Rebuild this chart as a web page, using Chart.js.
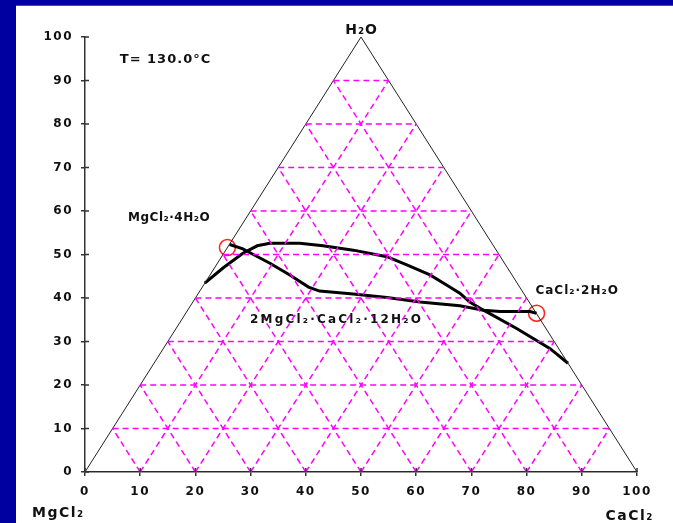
<!DOCTYPE html>
<html>
<head>
<meta charset="utf-8">
<script src="https://cdn.jsdelivr.net/npm/chart.js"></script>
<style>
  html, body { margin: 0; padding: 0; background: #0000a0; overflow: hidden; }
  #wrap { position: absolute; left: 16px; top: 5px; width: 657px; height: 517px;
          background: #fff; border-top: 1px solid #555; }
  canvas { display: block; }
</style>
</head>
<body>
<div id="wrap"><canvas id="ternary" width="657" height="517"></canvas></div>

<script>
// ternary grid levels (dashed magenta lines)
const gridLevels = [10, 20, 30, 40, 50, 60, 70, 80, 90];

// triangle outline MgCl2 - H2O - CaCl2
const triX = [0, 50, 100, 0];
const triY = [0, 100, 0, 0];

// upper solubility curve
const upperX = [21.7, 25.0, 28.6, 31.2, 33.5, 38.9, 43.1, 48.6, 54.7, 58.3, 62.5, 65.5, 67.9, 69.7, 72.2, 78.2, 84.2, 87.5];
const upperY = [43.4, 46.9, 50.3, 52.0, 52.6, 52.6, 52.0, 51.0, 49.5, 47.6, 45.3, 43.0, 41.1, 39.1, 37.2, 33.0, 28.4, 25.0];

// lower curve (MgCl2.4H2O -> CaCl2.2H2O)
const lowerX = [26.2, 28.6, 30.5, 33.5, 37.1, 40.5, 42.5, 48.6, 54.7, 60.7, 67.9, 72.2, 75.2, 80.6, 81.8];
const lowerY = [52.3, 51.3, 50.0, 48.0, 45.3, 42.5, 41.6, 40.9, 40.1, 39.1, 38.2, 37.2, 36.9, 36.9, 36.5];

// solid phases (red circles)
const solidX = [25.8, 81.8];
const solidY = [51.6, 36.5];

// texts
const labels = [
  { text: 'T= 130.0°C', x: 6.3, y: 94.9, align: 'left', size: 13, sp: 1 },
  { text: 'H₂O', x: 50.1, y: 101.6, align: 'center', size: 14, sp: 1 },
  { text: 'MgCl₂·4H₂O', x: 7.8, y: 58.4, align: 'left', size: 12, sp: 0.5 },
  { text: '2MgCl₂·CaCl₂·12H₂O', x: 29.9, y: 34.9, align: 'left', size: 12, sp: 2.2 },
  { text: 'CaCl₂·2H₂O', x: 81.6, y: 41.6, align: 'left', size: 12, sp: 1 }
];
const cornerLeft = 'MgCl₂';
const cornerRight = 'CaCl₂';

const toPts = (xs, ys) => xs.map((x, i) => ({ x: x, y: ys[i] }));

const line = (pts, color, width, dash) => ({
  data: pts, showLine: true, borderColor: color, borderWidth: width,
  borderDash: dash || [], pointRadius: 0, fill: false, tension: 0
});

let datasets = [];
// dashed grid
gridLevels.forEach(v => {
  datasets.push(line([{ x: v / 2, y: v }, { x: 100 - v / 2, y: v }], '#ff00ff', 1.5, [6, 4]));
  datasets.push(line([{ x: v, y: 0 }, { x: (100 + v) / 2, y: 100 - v }], '#ff00ff', 1.5, [6, 4]));
  datasets.push(line([{ x: v, y: 0 }, { x: v / 2, y: v }], '#ff00ff', 1.5, [6, 4]));
});
datasets.push(line(toPts(triX, triY), '#222', 1));
datasets.push(line(toPts(upperX, upperY), '#000', 3));
datasets.push(line(toPts(lowerX, lowerY), '#000', 3));
datasets.push({
  data: toPts(solidX, solidY), showLine: false, pointRadius: 8, pointHoverRadius: 8,
  pointStyle: 'circle', borderColor: '#ff2020', backgroundColor: 'rgba(0,0,0,0)', borderWidth: 1.5
});

// inner halves of tick marks + texts
const extras = {
  id: 'extras',
  beforeDraw(chart) {
    chart.ctx.letterSpacing = '1.5px';
  },
  afterDraw(chart) {
    const ctx = chart.ctx, xs = chart.scales.x, ys = chart.scales.y;
    ctx.save();
    ctx.strokeStyle = '#333';
    ctx.lineWidth = 1.5;
    xs.ticks.forEach(t => {
      const px = xs.getPixelForValue(t.value);
      ctx.beginPath(); ctx.moveTo(px, ys.bottom); ctx.lineTo(px, ys.bottom - 4); ctx.stroke();
    });
    ys.ticks.forEach(t => {
      const py = ys.getPixelForValue(t.value);
      ctx.beginPath(); ctx.moveTo(xs.left, py); ctx.lineTo(xs.left + 4, py); ctx.stroke();
    });
    ctx.fillStyle = '#111';
    ctx.textBaseline = 'middle';
    labels.forEach(l => {
      ctx.font = 'bold ' + l.size + 'px "DejaVu Sans"';
      ctx.letterSpacing = l.sp + 'px';
      ctx.textAlign = l.align;
      ctx.fillText(l.text, xs.getPixelForValue(l.x), ys.getPixelForValue(l.y));
    });
    ctx.font = 'bold 14px "DejaVu Sans"';
    ctx.letterSpacing = '1.5px';
    ctx.textAlign = 'left';
    ctx.fillText(cornerLeft, 16, 507);
    ctx.textAlign = 'right';
    ctx.fillText(cornerRight, 638, 510);
    ctx.restore();
  }
};

const tickFont = { family: 'DejaVu Sans', size: 12, weight: 'bold' };

new Chart(document.getElementById('ternary').getContext('2d'), {
  type: 'scatter',
  data: { datasets: datasets },
  options: {
    responsive: false,
    animation: false,
    layout: { padding: { top: 31, right: 36, left: 0, bottom: 0 } },
    plugins: { legend: { display: false }, tooltip: { enabled: false } },
    scales: {
      x: {
        type: 'linear', min: 0, max: 100,
        afterFit: s => { s.height = 51; },
        ticks: { stepSize: 10, color: '#111', font: tickFont, padding: 9, maxRotation: 0 },
        grid: { drawOnChartArea: false, drawTicks: true, tickLength: 4, color: '#333', lineWidth: 1.5 },
        border: { display: true, color: '#333', width: 1.5 }
      },
      y: {
        type: 'linear', min: 0, max: 100,
        afterFit: s => { s.width = 69; },
        ticks: { stepSize: 10, color: '#111', font: tickFont, padding: 8 },
        grid: { drawOnChartArea: false, drawTicks: true, tickLength: 4, color: '#333', lineWidth: 1.5 },
        border: { display: true, color: '#333', width: 1.5 }
      }
    }
  },
  plugins: [extras]
});
</script>
</body>
</html>
